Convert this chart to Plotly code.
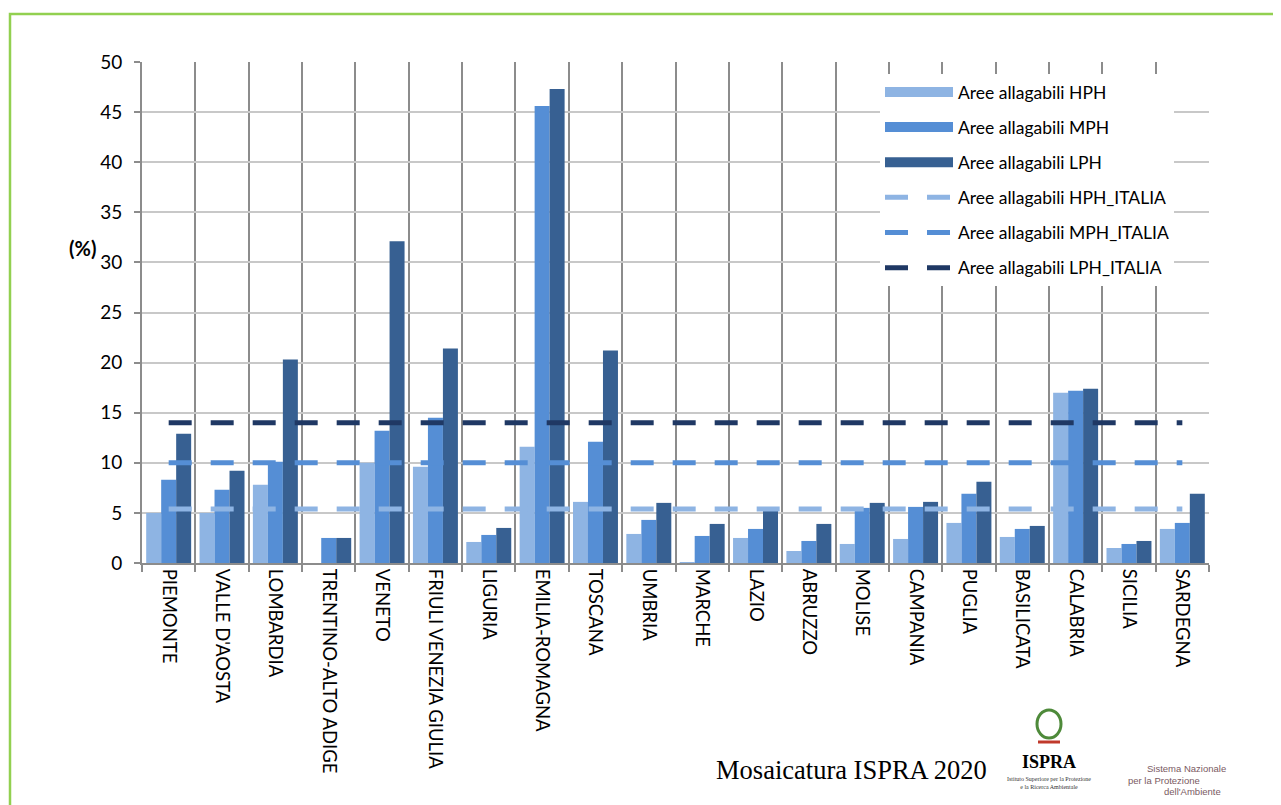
import plotly.graph_objects as go

regions = ["PIEMONTE", "VALLE D'AOSTA", "LOMBARDIA", "TRENTINO-ALTO ADIGE", "VENETO",
           "FRIULI VENEZIA GIULIA", "LIGURIA", "EMILIA-ROMAGNA", "TOSCANA", "UMBRIA",
           "MARCHE", "LAZIO", "ABRUZZO", "MOLISE", "CAMPANIA", "PUGLIA", "BASILICATA",
           "CALABRIA", "SICILIA", "SARDEGNA"]

hph = [5.0, 5.0, 7.8, 0.0, 10.0, 9.6, 2.1, 11.6, 6.1, 2.9,
       0.1, 2.5, 1.2, 1.9, 2.4, 4.0, 2.6, 17.0, 1.5, 3.4]
mph = [8.3, 7.3, 10.1, 2.5, 13.2, 14.5, 2.8, 45.6, 12.1, 4.3,
       2.7, 3.4, 2.2, 5.5, 5.6, 6.9, 3.4, 17.2, 1.9, 4.0]
lph = [12.9, 9.2, 20.3, 2.5, 32.1, 21.4, 3.5, 47.3, 21.2, 6.0,
       3.9, 5.2, 3.9, 6.0, 6.1, 8.1, 3.7, 17.4, 2.2, 6.9]

hph_italia = [5.4, 5.4, 5.4, 5.4, 5.4, 5.4, 5.4, 5.4, 5.4, 5.4,
              5.4, 5.4, 5.4, 5.4, 5.4, 5.4, 5.4, 5.4, 5.4, 5.4]
mph_italia = [10.0, 10.0, 10.0, 10.0, 10.0, 10.0, 10.0, 10.0, 10.0, 10.0,
              10.0, 10.0, 10.0, 10.0, 10.0, 10.0, 10.0, 10.0, 10.0, 10.0]
lph_italia = [14.0, 14.0, 14.0, 14.0, 14.0, 14.0, 14.0, 14.0, 14.0, 14.0,
              14.0, 14.0, 14.0, 14.0, 14.0, 14.0, 14.0, 14.0, 14.0, 14.0]

names_bar = ["Aree allagabili HPH", "Aree allagabili MPH", "Aree allagabili LPH"]
names_line = ["Aree allagabili HPH_ITALIA", "Aree allagabili MPH_ITALIA", "Aree allagabili LPH_ITALIA"]
c_bar = ["#8EB4E3", "#558ED5", "#376092"]
c_line = ["#8EB4E3", "#558ED5", "#1F3864"]

FONT = "Lato"
OFF = 8  # page body margin
W, H = 1281 - OFF, 805 - OFF
L, T = 142 - OFF, 62 - OFF
PW, PH = 1067, 501
R, B = W - L - PW, H - T - PH


def px(x):
    # screen x -> paper
    return (x - OFF - L) / PW


def py(y):
    # screen y -> paper
    return (T + PH - (y - OFF)) / PH


def note(text, x, y, size, family=FONT, color="#000", **kw):
    return dict(text=text, xref="paper", yref="paper", x=px(x), y=py(y),
                xanchor="center", yanchor="middle", showarrow=False,
                font=dict(family=family, size=size, color=color), **kw)


fig = go.Figure()

for i, vals in enumerate([hph, mph, lph]):
    fig.add_trace(go.Bar(x=regions, y=vals, name=names_bar[i], marker_color=c_bar[i],
                         marker_line_width=0, showlegend=False, legendgroup="b%d" % i))

for i, vals in enumerate([hph_italia, mph_italia, lph_italia]):
    fig.add_trace(go.Scatter(x=regions, y=vals, name=names_line[i], mode="lines",
                             line=dict(color=c_line[i], width=5, dash="23px,19px"),
                             showlegend=False, legendgroup="l%d" % i))

# legend entries
for i in range(3):
    fig.add_trace(go.Scatter(x=[None], y=[None], name=names_bar[i], mode="lines",
                             line=dict(color=c_bar[i], width=12), legendgroup="b%d" % i))
for i in range(3):
    fig.add_trace(go.Scatter(x=[None], y=[None], name=names_line[i], mode="lines",
                             line=dict(color=c_line[i], width=5, dash="23px,19px"),
                             legendgroup="l%d" % i))

fig.update_layout(
    width=W, height=H,
    margin=dict(l=L, r=R, t=T, b=B),
    paper_bgcolor="white", plot_bgcolor="white",
    barmode="group", bargap=0.157, bargroupgap=0,
    font=dict(family=FONT, size=16, color="#000000"),
    legend=dict(x=px(880), y=py(74), xanchor="left", yanchor="top",
                bgcolor="white", font=dict(family=FONT, size=17.5, color="#000"),
                itemwidth=68, traceorder="grouped", tracegroupgap=9.4,
                itemclick=False),
    xaxis=dict(type="category", tickson="boundaries", showgrid=True,
               gridcolor="#8C8C8C", gridwidth=2,
               showline=True, linecolor="#8C8C8C", linewidth=2,
               ticks="outside", ticklen=7, tickcolor="#8C8C8C", tickwidth=2,
               tickangle=90, tickfont=dict(family=FONT, size=18.5, color="#000"),
               range=[-0.5, 19.5]),
    yaxis=dict(range=[0, 50], dtick=5, tick0=0, showgrid=True,
               gridcolor="#C8C8C8", gridwidth=1.5,
               showline=True, linecolor="#8C8C8C", linewidth=2,
               ticks="outside", ticklen=6, tickcolor="#8C8C8C", tickwidth=2,
               tickfont=dict(family=FONT, size=19, color="#000"),
               ticklabelstandoff=8, zeroline=False),
    shapes=[
        dict(type="rect", xref="paper", yref="paper",
             x0=px(10), x1=px(1300), y0=py(830), y1=py(14),
             line=dict(color="#92D050", width=2.5), fillcolor="rgba(0,0,0,0)",
             layer="below"),
        dict(type="circle", xref="paper", yref="paper",
             x0=px(1037), x1=px(1061), y0=py(738), y1=py(710),
             line=dict(color="#4E8A3A", width=3), fillcolor="rgba(0,0,0,0)"),
        dict(type="line", xref="paper", yref="paper",
             x0=px(1038), x1=px(1060), y0=py(742), y1=py(742),
             line=dict(color="#C0392B", width=3)),
    ],
    annotations=[
        note("<b>(%)</b>", 82, 248, 20),
        note("Mosaicatura ISPRA 2020", 851, 770, 26.5, family="Liberation Serif"),
        note("<b>ISPRA</b>", 1049, 762, 18, family="Liberation Serif"),
        note("Istituto Superiore per la Protezione<br>e la Ricerca Ambientale",
             1049, 783, 6, family="Liberation Serif", color="#333"),
        note("Sistema Nazionale", 1186, 768, 9.5, family="Liberation Sans", color="#7A5A62"),
        note("per la Protezione", 1164, 780, 9.5, family="Liberation Sans", color="#7A5A62"),
        note("dell'Ambiente", 1192, 792, 9.5, family="Liberation Sans", color="#7A5A62"),
    ],
)

fig.write_html("out.html")
